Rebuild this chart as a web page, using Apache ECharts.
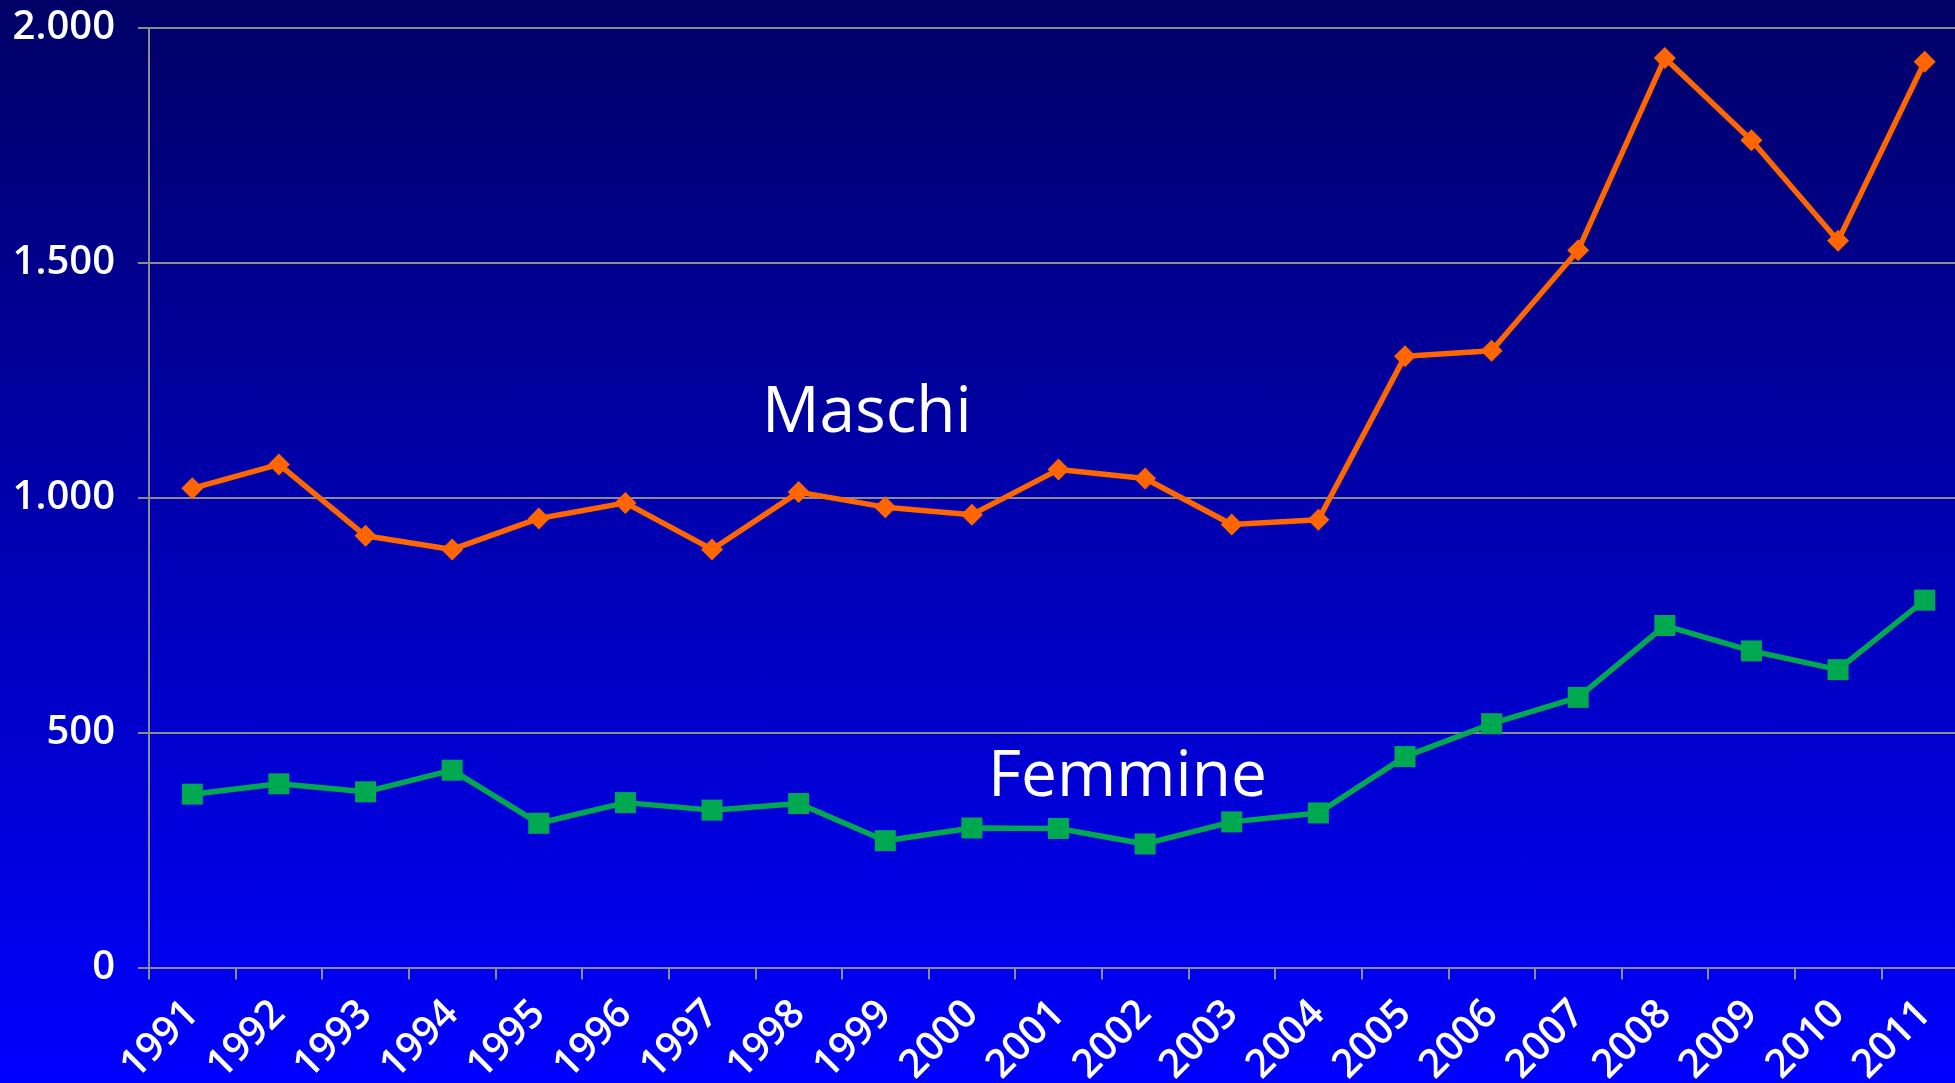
<!DOCTYPE html>
<html>
<head>
<meta charset="utf-8">
<script src="https://cdn.jsdelivr.net/npm/echarts@6/dist/echarts.min.js"></script>
<style>
html,body{margin:0;padding:0;width:1955px;height:1083px;overflow:hidden;background:linear-gradient(to bottom,#000066 0%,#0000FF 100%);}
#c{width:2000px;height:1083px;}
</style>
</head>
<body>
<div id="c"></div>
<script>
const years = ['1991','1992','1993','1994','1995','1996','1997','1998','1999','2000','2001','2002','2003','2004','2005','2006','2007','2008','2009','2010','2011'];
const maschi = [1020,1071,919,890,956,989,890,1012,980,964,1060,1041,943,953,1301,1313,1527,1936,1761,1547,1928];
const femmine = [369,391,374,420,307,351,335,349,270,297,296,263,310,329,449,519,575,728,674,634,782];
const yTicks = [0,500,1000,1500,2000];
const seriesNames = ['Maschi','Femmine'];

const chart = echarts.init(document.getElementById('c'), null, {renderer:'canvas'});
const fontFam = '"Open Sans", "Noto Sans", sans-serif';
chart.setOption({
  backgroundColor: 'transparent',
  animation: false,
  grid: {left:149, top:28, width:1819, height:939.5, containLabel:false, outerBoundsMode:'none'},
  xAxis: {
    type:'category', data: years, boundaryGap: true,
    axisLine:{show:true, lineStyle:{color:'#8c8c8c', width:2}},
    axisTick:{show:true, length:12, lineStyle:{color:'#8c8c8c', width:2}},
    axisLabel:{rotate:45, margin:40, color:'#ffffff', fontSize:40, fontFamily:fontFam, fontWeight:600, interval:0},
    splitLine:{show:false}
  },
  yAxis: {
    type:'value', min:0, max:2000, interval:500,
    axisLine:{show:true, lineStyle:{color:'#8c8c8c', width:2}},
    axisTick:{show:true, length:11, lineStyle:{color:'#8c8c8c', width:2}},
    axisLabel:{margin:34, color:'#ffffff', fontSize:40, fontFamily:fontFam, fontWeight:600,
      formatter: v => yTicks.includes(v) ? String(v).replace(/\B(?=(\d{3})+(?!\d))/g,'.') : ''},
    splitLine:{show:true, lineStyle:{color:'#8c8c8c', width:2}}
  },
  series: [
    {name:seriesNames[0], type:'line', data:maschi, symbol:'diamond', symbolSize:[22,22],
     lineStyle:{color:'#FF6600', width:5.5}, itemStyle:{color:'#FF6600'}, z:3},
    {name:seriesNames[1], type:'line', data:femmine, symbol:'rect', symbolSize:[21,21],
     lineStyle:{color:'#00A94F', width:5.5}, itemStyle:{color:'#00A94F'}, z:3}
  ],
  graphic: [
    {type:'text', left:762, top:382, style:{text:seriesNames[0], fill:'#ffffff', font:'64px "Open Sans", "Noto Sans", sans-serif'}},
    {type:'text', left:988, top:746, style:{text:seriesNames[1], fill:'#ffffff', font:'64px "Open Sans", "Noto Sans", sans-serif'}}
  ]
});
</script>
</body>
</html>
